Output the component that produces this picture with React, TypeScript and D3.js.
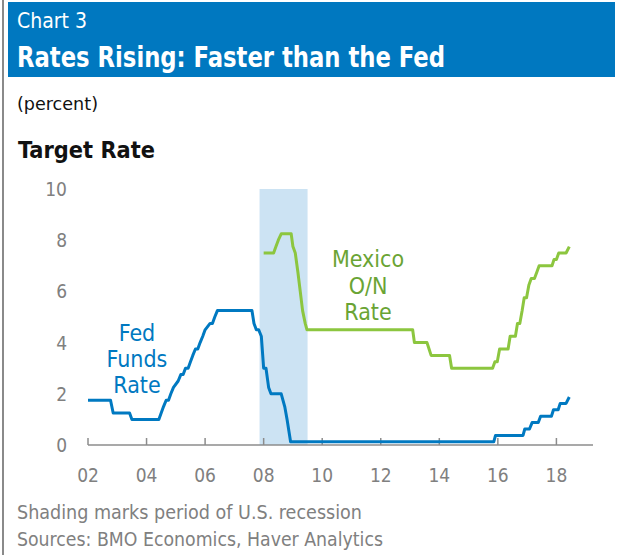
import React from "react";
import * as d3 from "d3";

const yTicks = [0, 2, 4, 6, 8, 10];
const xTicks = [2002, 2004, 2006, 2008, 2010, 2012, 2014, 2016, 2018];
const recession = [2007.86, 2009.5];

// Fed funds target rate (vertices: decimal year, percent)
const fedYears = [2002.0, 2002.77, 2002.86, 2003.42, 2003.5, 2004.42, 2004.5, 2004.58, 2004.67, 2004.75, 2004.83, 2004.92, 2005.08, 2005.17, 2005.25, 2005.33, 2005.42, 2005.5, 2005.58, 2005.67, 2005.75, 2005.83, 2005.92, 2006.0, 2006.17, 2006.25, 2006.33, 2006.42, 2007.6, 2007.67, 2007.75, 2007.83, 2007.92, 2008.0, 2008.08, 2008.17, 2008.25, 2008.6, 2008.72, 2008.8, 2008.92, 2015.86, 2015.92, 2016.86, 2016.92, 2017.08, 2017.17, 2017.38, 2017.46, 2017.83, 2017.9, 2018.06, 2018.13, 2018.33, 2018.44];
const fedRates = [1.75, 1.75, 1.25, 1.25, 1.0, 1.0, 1.25, 1.5, 1.75, 1.75, 2.0, 2.25, 2.5, 2.75, 2.75, 3.0, 3.0, 3.25, 3.5, 3.75, 3.75, 4.0, 4.25, 4.5, 4.75, 4.75, 5.0, 5.25, 5.25, 4.75, 4.5, 4.5, 4.25, 3.0, 3.0, 2.25, 2.0, 2.0, 1.5, 1.0, 0.125, 0.125, 0.375, 0.375, 0.625, 0.625, 0.875, 0.875, 1.125, 1.125, 1.375, 1.375, 1.625, 1.625, 1.875];

// Mexico overnight rate
const mexYears = [2008.0, 2008.34, 2008.42, 2008.5, 2008.6, 2008.94, 2009.0, 2009.08, 2009.17, 2009.25, 2009.33, 2009.42, 2009.48, 2013.09, 2013.15, 2013.58, 2013.65, 2013.72, 2014.35, 2014.42, 2015.82, 2015.9, 2015.98, 2016.06, 2016.35, 2016.42, 2016.6, 2016.67, 2016.75, 2016.83, 2016.9, 2016.98, 2017.06, 2017.14, 2017.25, 2017.33, 2017.41, 2017.85, 2017.92, 2018.0, 2018.08, 2018.33, 2018.44];
const mexRates = [7.5, 7.5, 7.75, 8.0, 8.25, 8.25, 7.75, 7.5, 6.75, 6.0, 5.25, 4.75, 4.5, 4.5, 4.0, 4.0, 3.75, 3.5, 3.5, 3.0, 3.0, 3.25, 3.25, 3.75, 3.75, 4.25, 4.25, 4.75, 4.75, 5.25, 5.75, 5.75, 6.25, 6.5, 6.5, 6.75, 7.0, 7.0, 7.25, 7.25, 7.5, 7.5, 7.75];

const FONT = "'DejaVu Sans Condensed', 'Liberation Sans Narrow', 'Open Sans', sans-serif";
const BLUE = "#0079c1";
const GREEN = "#8cc63f";
const GREEN_TEXT = "#6aa434";
const GRAY = "#808080";

export default function App() {
  const x = d3.scaleLinear().domain([2002, 2019.25]).range([88, 593]);
  const y = d3.scaleLinear().domain([0, 10]).range([445, 189]);
  const lineGen = d3.line<[number, number]>().x((d) => x(d[0])).y((d) => y(d[1]));

  const fedPath = lineGen(fedYears.map((yr, i) => [yr, fedRates[i]] as [number, number]));
  const mexPath = lineGen(mexYears.map((yr, i) => [yr, mexRates[i]] as [number, number]));

  return (
    <div style={{ position: "absolute", left: 0, top: 0 }}>
      <svg width={620} height={555} style={{ display: "block", fontFamily: FONT }}>
        <rect x={0} y={0} width={620} height={555} fill="#fff" />
        <line x1={3} x2={3} y1={0} y2={555} stroke="#8a8a8a" strokeWidth={2} />
        <rect x={8} y={2} width={607} height={75} fill="#0078c0" />
        <text x={17} y={28} fill="#fff" fontSize={22} fontWeight={300} textLength={70} lengthAdjust="spacingAndGlyphs">
          Chart 3
        </text>
        <text x={17} y={67} fill="#fff" fontSize={29} fontWeight="bold" textLength={428} lengthAdjust="spacingAndGlyphs">
          Rates Rising: Faster than the Fed
        </text>
        <text x={17} y={110} fill="#111" fontSize={18} textLength={81} lengthAdjust="spacingAndGlyphs">
          (percent)
        </text>
        <text x={18} y={158} fill="#111" fontSize={23} fontWeight="bold" textLength={137} lengthAdjust="spacingAndGlyphs">
          Target Rate
        </text>

        {/* recession shading */}
        <rect
          x={x(recession[0])}
          y={y(10)}
          width={x(recession[1]) - x(recession[0])}
          height={y(0) - y(10)}
          fill="#cce3f3"
        />

        {/* y tick labels */}
        {yTicks.map((t) => (
          <text key={t} x={67} y={y(t) + 7} textAnchor="end" fill={GRAY} fontSize={19}>
            {t}
          </text>
        ))}

        {/* x axis */}
        <line x1={x(2002)} x2={x(2019.25)} y1={y(0)} y2={y(0)} stroke="#8c8c8c" strokeWidth={1.5} />
        {xTicks.map((t) => (
          <g key={t}>
            <line x1={x(t)} x2={x(t)} y1={y(0)} y2={y(0) - 7} stroke="#8c8c8c" strokeWidth={1.5} />
            <text x={x(t)} y={482} textAnchor="middle" fill={GRAY} fontSize={19}>
              {String(t % 100).padStart(2, "0")}
            </text>
          </g>
        ))}

        <path d={mexPath || ""} fill="none" stroke={GREEN} strokeWidth={3} strokeLinejoin="round" />
        <path d={fedPath || ""} fill="none" stroke={BLUE} strokeWidth={3} strokeLinejoin="round" />

        {/* labels */}
        {["Fed", "Funds", "Rate"].map((s, i) => (
          <text key={s} x={137} y={341 + i * 26} textAnchor="middle" fill={BLUE} fontSize={23}>
            {s}
          </text>
        ))}
        {["Mexico", "O/N", "Rate"].map((s, i) => (
          <text key={s} x={368} y={267 + i * 26.5} textAnchor="middle" fill={GREEN_TEXT} fontSize={23}>
            {s}
          </text>
        ))}

        <text x={17} y={519} fill={GRAY} fontSize={19} textLength={345} lengthAdjust="spacingAndGlyphs">
          Shading marks period of U.S. recession
        </text>
        <text x={17} y={546} fill={GRAY} fontSize={19} textLength={366} lengthAdjust="spacingAndGlyphs">
          Sources: BMO Economics, Haver Analytics
        </text>
      </svg>
    </div>
  );
}
